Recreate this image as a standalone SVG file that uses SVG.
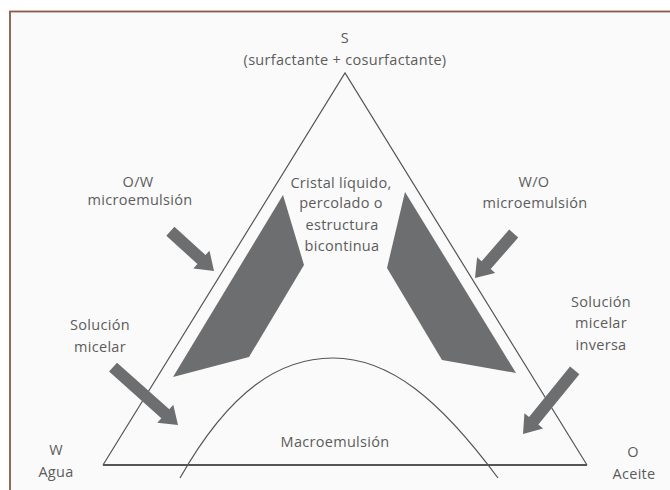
<svg xmlns="http://www.w3.org/2000/svg" width="670" height="490" viewBox="0 0 670 490">
<style>
.t{font-family:"Open Sans","Liberation Sans",sans-serif;font-size:14.5px;fill:#5c5c5c;text-anchor:middle;letter-spacing:0.3px}
.edge{fill:none;stroke:#555555;stroke-width:1.2}
.region{fill:#6d6e70}
.arrow{fill:#6d6e70}
</style>
<rect x="0" y="0" width="670" height="490" fill="#ffffff"/>
<rect x="10" y="11.5" width="680" height="500" fill="#fafafa" stroke="#8a5a48" stroke-width="1.8"/>
<g id="triangle">
<path class="edge" d="M103,465 L345,73 L587,465"/>
<line x1="103" y1="465" x2="587" y2="465" stroke="#555555" stroke-width="2"/>
</g>
<g id="ow-region"><polygon class="region" points="283,195 304,265 249,357 173,377"/></g>
<g id="wo-region"><polygon class="region" points="405,192 387,268 442,360 516,373"/></g>
<g id="macro-curve"><path class="edge" d="M180,478 C230,390 280,358 333,358 C390,358 440,400 498,478"/></g>
<g id="connectors">
<path class="arrow" transform="translate(214,271) rotate(42.3)" d="M-59,-6 L-17,-6 L-17,-12 L0,0 L-17,12 L-17,6 L-59,6 Z"/>
<path class="arrow" transform="translate(475,278) rotate(131)" d="M-59,-6 L-17,-6 L-17,-12 L0,0 L-17,12 L-17,6 L-59,6 Z"/>
<path class="arrow" transform="translate(178,425) rotate(41.7)" d="M-87,-6 L-17,-6 L-17,-12 L0,0 L-17,12 L-17,6 L-87,6 Z"/>
<path class="arrow" transform="translate(523,434) rotate(129.1)" d="M-82,-6 L-17,-6 L-17,-12 L0,0 L-17,12 L-17,6 L-82,6 Z"/>
</g>
<g id="node-s"><text class="t" x="345" y="43">S</text><text class="t" x="345" y="65">(surfactante + cosurfactante)</text></g>
<g id="node-ow"><text class="t" x="138" y="187">O/W</text><text class="t" x="140" y="205">microemulsión</text></g>
<g id="node-wo"><text class="t" x="534" y="187">W/O</text><text class="t" x="535" y="208">microemulsión</text></g>
<g id="node-cristal"><text class="t" x="341" y="188">Cristal líquido,</text><text class="t" x="341" y="208">percolado o</text><text class="t" x="342" y="230">estructura</text><text class="t" x="342" y="251">bicontinua</text></g>
<g id="node-sol"><text class="t" x="100" y="330">Solución</text><text class="t" x="100" y="352">micelar</text></g>
<g id="node-solinv"><text class="t" x="601" y="307">Solución</text><text class="t" x="601" y="328">micelar</text><text class="t" x="601" y="350">inversa</text></g>
<g id="node-w"><text class="t" x="56" y="455">W</text><text class="t" x="56" y="477">Agua</text></g>
<g id="node-o"><text class="t" x="633" y="457">O</text><text class="t" x="634" y="479">Aceite</text></g>
<g id="node-macro"><text class="t" x="335" y="447">Macroemulsión</text></g>
</svg>
